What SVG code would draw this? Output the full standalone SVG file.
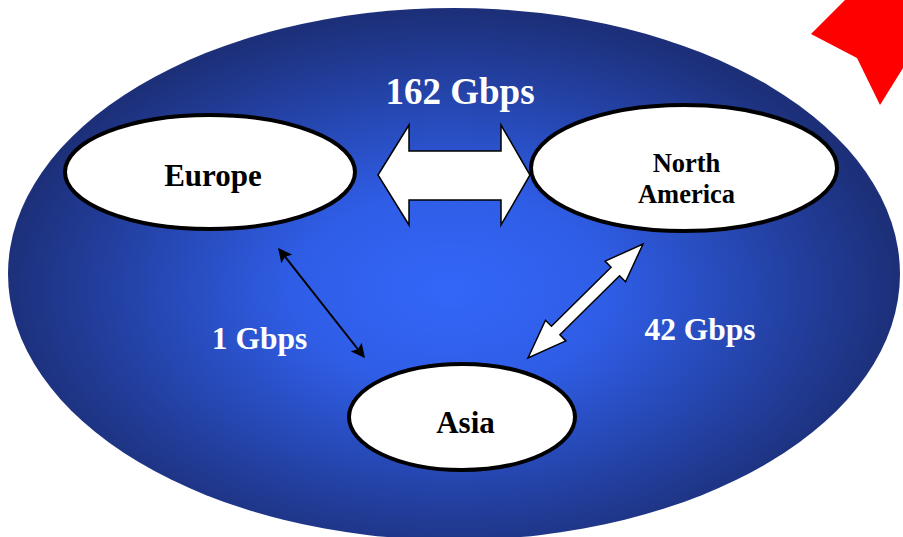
<svg xmlns="http://www.w3.org/2000/svg" width="903" height="537" viewBox="0 0 903 537">
<defs>
<radialGradient id="bg" cx="450" cy="290" r="450" gradientUnits="userSpaceOnUse" gradientTransform="translate(450 290) scale(1 0.62) translate(-450 -290)">
<stop offset="0" stop-color="#3366f8"/>
<stop offset="0.35" stop-color="#2f5de6"/>
<stop offset="1" stop-color="#1c2f78"/>
</radialGradient>
<marker id="ah" viewBox="0 0 10 10" refX="9" refY="5" markerWidth="7" markerHeight="7" orient="auto-start-reverse" markerUnits="strokeWidth">
<path d="M0,0 L10,5 L0,10 L2,5 Z" fill="#000"/>
</marker>
<style>
.node{fill:#fff;stroke:#000;stroke-width:4}
.nt{font-family:"Liberation Serif","Times New Roman",serif;font-weight:bold;fill:#000;text-anchor:middle}
.lt{font-family:"Liberation Serif","Times New Roman",serif;font-weight:bold;fill:#fff;text-anchor:middle}
.blk{fill:#fff;stroke:#000;stroke-width:1.5;stroke-linejoin:miter}
</style>
</defs>
<rect width="903" height="537" fill="#fff"/>
<polygon points="845,0 903,0 903,68 880,105 857,58 811,34" fill="#ff0000"/>
<ellipse cx="454" cy="274" rx="446" ry="266" fill="url(#bg)"/>
<g id="connectors">
<polygon class="blk" points="378,175 409,125 409,151 501,151 501,125 530,175 501,225 501,200 409,200 409,225"/>
<line x1="279" y1="249" x2="364" y2="357" stroke="#000" stroke-width="2" marker-start="url(#ah)" marker-end="url(#ah)"/>
<g transform="translate(585.5 301) rotate(-44.75)">
<polygon class="blk" points="-81,0 -42,-14.5 -42,-6 42,-6 42,-14.5 81,0 42,14.5 42,6 -42,6 -42,14.5"/>
</g>
</g>
<g id="label-162">
<text class="lt" x="460" y="104" font-size="37">162 Gbps</text>
</g>
<g id="label-1">
<text class="lt" x="259.5" y="349" font-size="31.5">1 Gbps</text>
</g>
<g id="label-42">
<text class="lt" x="700" y="340" font-size="31.5">42 Gbps</text>
</g>
<g id="europe">
<ellipse class="node" cx="210" cy="172" rx="145" ry="57"/>
<text class="nt" x="213" y="186" font-size="31">Europe</text>
</g>
<g id="north-america">
<ellipse class="node" cx="684" cy="168" rx="153" ry="63"/>
<text class="nt" x="686.5" y="172" font-size="26.5">North</text>
<text class="nt" x="686.5" y="203" font-size="26.5">America</text>
</g>
<g id="asia">
<ellipse class="node" cx="462" cy="417" rx="113" ry="53"/>
<text class="nt" x="465.5" y="433" font-size="31">Asia</text>
</g>
</svg>
